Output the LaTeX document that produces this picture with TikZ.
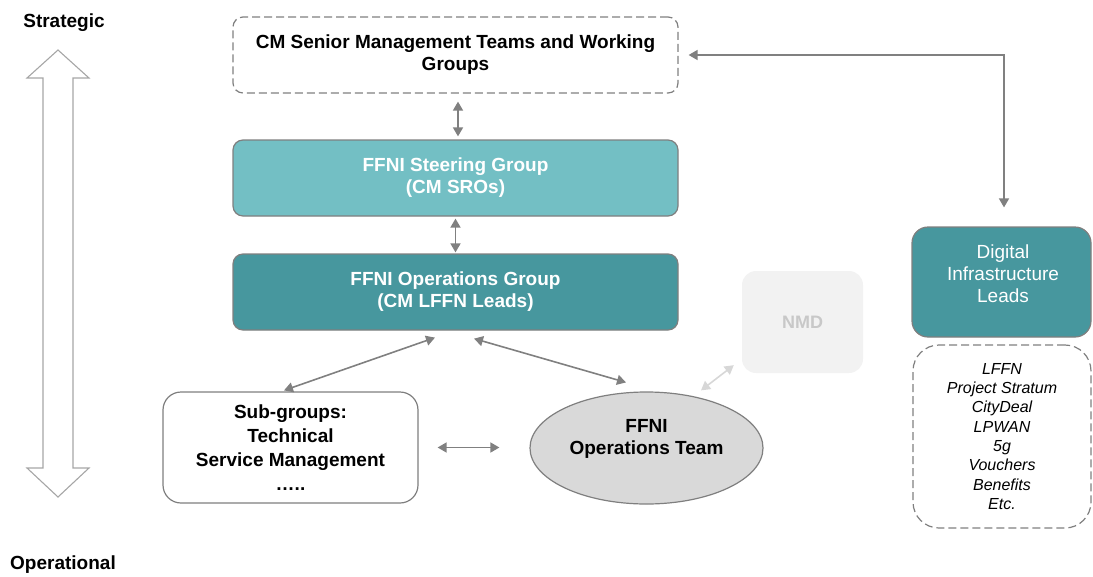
\documentclass[tikz,border=0pt]{standalone}
\usepackage{fontspec}
\setmainfont{Liberation Sans}
\usetikzlibrary{arrows.meta,shapes.geometric}
\definecolor{steerfill}{RGB}{115,191,196}
\definecolor{opsfill}{RGB}{71,151,158}
\definecolor{edgegray}{RGB}{127,127,127}
\definecolor{arrgray}{RGB}{128,128,128}
\definecolor{bigarrow}{RGB}{166,166,166}
\definecolor{ellfill}{RGB}{217,217,217}
\definecolor{nmdfill}{RGB}{242,242,242}
\definecolor{nmdtext}{RGB}{200,200,200}
\definecolor{nmdarrow}{RGB}{215,215,215}
\begin{document}
\begin{tikzpicture}[x=1pt,y=-1pt,
  box/.style={draw=edgegray, line width=1.2pt, rounded corners=10pt, align=center, inner sep=0pt},
  dashbox/.style={box, dash pattern=on 8pt off 4pt},
  boldtext/.style={font=\fontsize{19}{22}\selectfont\bfseries},
  tip/.style={Triangle[width=10pt,length=9pt]},
  dbl/.style={draw=arrgray, line width=1.6pt, {Triangle[width=10pt,length=9pt]}-{Triangle[width=10pt,length=9pt]}},
  plain/.style={inner sep=0pt, align=center}
]
\useasboundingbox (0,0) rectangle (1093,576);

% strategic / operational axis
\node[plain, boldtext] (strat) at (64,23) {Strategic};
\node[plain, boldtext] (oper) at (63,565) {Operational};
\draw[bigarrow, line width=1.1pt, fill=white]
  (58,50) -- (89,78) -- (73,78) -- (73,468) -- (89,468) -- (58,497)
  -- (27,468) -- (43,468) -- (43,78) -- (27,78) -- cycle;

% main column
\node[dashbox, boldtext, minimum width=445pt, minimum height=76pt, text=black] (top) at (455.5,55)
  {CM Senior Management Teams and Working\\Groups};
\node[box, boldtext, fill=steerfill, text=white, minimum width=445pt, minimum height=76pt] (steer) at (455.5,178)
  {FFNI Steering Group\\(CM SROs)};
\node[box, boldtext, fill=opsfill, text=white, minimum width=445pt, minimum height=76pt] (ops) at (455.5,292)
  {FFNI Operations Group\\(CM LFFN Leads)};

% lower row
\node[box, rounded corners=18pt, fill=white, minimum width=255pt, minimum height=111pt,
      font=\fontsize{19}{24}\selectfont\bfseries] (sub) at (290.5,447.5)
  {Sub-groups:\\Technical\\Service Management\\…..};
\node[draw=edgegray, line width=1.2pt, fill=ellfill, ellipse, minimum width=233pt, minimum height=112pt, inner sep=0pt] (ot) at (646.5,448) {};
\node[plain, boldtext] (otlabel) at (646.5,439) {FFNI\\Operations Team};
\node[draw=none, fill=nmdfill, rounded corners=14pt, minimum width=121pt, minimum height=102pt, inner sep=0pt,
      font=\fontsize{18}{22}\selectfont\bfseries, text=nmdtext] (nmd) at (802.5,322) {NMD};

% right column
\node[box, rounded corners=16pt, fill=opsfill, minimum width=179pt, minimum height=110pt] (dig) at (1001.5,282) {};
\node[plain, text=white, font=\fontsize{19}{22}\selectfont] (diglabel) at (1003,274)
  {Digital\\Infrastructure\\Leads};
\node[dashbox, rounded corners=26pt, minimum width=178pt, minimum height=183pt,
      font=\fontsize{16}{19.3}\selectfont\itshape] (list) at (1002,436.5)
  {LFFN\\Project Stratum\\CityDeal\\LPWAN\\5g\\Vouchers\\Benefits\\Etc.};

% connectors
\draw[dbl, shorten <=8pt, shorten >=3pt] ([xshift=2.5pt]top.south) -- ([xshift=2.5pt]steer.north);
\draw[dbl, shorten <=2pt, shorten >=1pt] (steer.south) -- (ops.south |- ops.north);
\draw[dbl] ([xshift=-20.5pt,yshift=-7pt]ops.south) -- ([xshift=-6.5pt,yshift=1pt]sub.north);
\draw[dbl] ([xshift=18.5pt,yshift=-8pt]ops.south) -- ([xshift=-20.5pt,yshift=9pt]ot.north);
\draw[dbl, shorten <=19pt, shorten >=30pt] (sub.east) -- (sub.east -| ot.west);
\draw[draw=nmdarrow, line width=1.6pt, {Triangle[width=10pt,length=9pt]}-{Triangle[width=10pt,length=9pt]}]
  ([xshift=54.5pt,yshift=1pt]ot.north) -- ([xshift=-8pt,yshift=8pt]nmd.south west);
\draw[dbl, shorten <=10pt, shorten >=19pt] (top.east) -| ([xshift=2.5pt]dig.north);
\end{tikzpicture}
\end{document}
